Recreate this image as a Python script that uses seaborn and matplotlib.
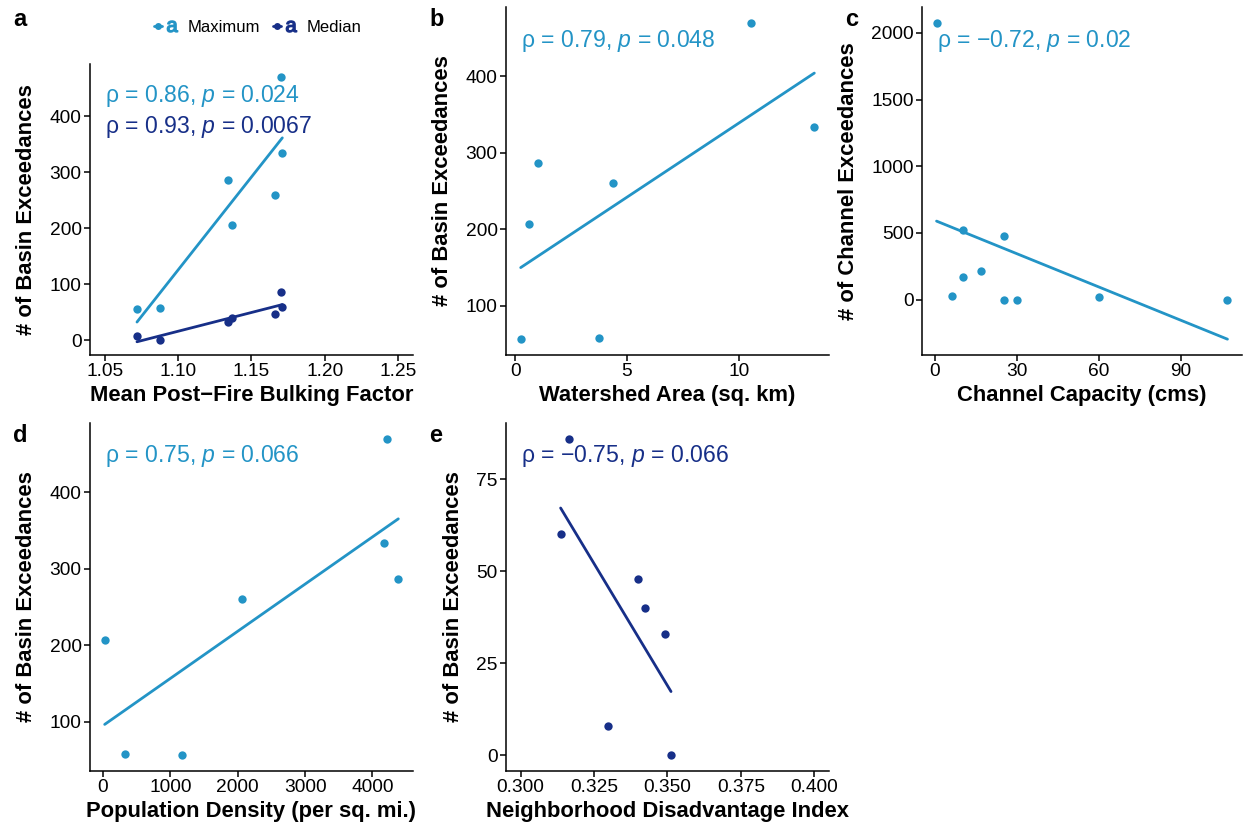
import matplotlib
matplotlib.use("Agg")
import matplotlib.pyplot as plt
import seaborn as sns
import pandas as pd
from matplotlib.lines import Line2D
from matplotlib.legend_handler import HandlerTuple

# ---------------- data ----------------
bulking = [1.072, 1.088, 1.134, 1.137, 1.166, 1.170, 1.171]
basin_max_a = [56, 58, 287, 207, 260, 470, 334]
basin_med_a = [8, 0, 33, 40, 48, 86, 60]

area = [0.25, 0.61, 1.03, 3.75, 4.36, 10.57, 13.38]
basin_max_b = [56, 207, 287, 58, 260, 470, 334]

capacity = [0.6, 10.3, 25.2, 17.0, 10.2, 6.2, 25.2, 30.1, 60.1, 107.0]
channel_exc = [2075, 526, 479, 214, 167, 30, 0, 0, 22, 0]

pop_density = [25, 321, 1170, 2059, 4168, 4222, 4385]
basin_max_d = [207, 58, 56, 260, 334, 470, 287]

disadv = [0.3136, 0.3166, 0.3296, 0.3398, 0.3425, 0.3491, 0.3512]
basin_med_e = [60, 86, 8, 48, 40, 33, 0]

series_names = ["Maximum", "Median"]
stats_a = ["ρ = 0.86, $\\it{p}$ = 0.024", "ρ = 0.93, $\\it{p}$ = 0.0067"]
stat_b = "ρ = 0.79, $\\it{p}$ = 0.048"
stat_c = "ρ = −0.72, $\\it{p}$ = 0.02"
stat_d = "ρ = 0.75, $\\it{p}$ = 0.066"
stat_e = "ρ = −0.75, $\\it{p}$ = 0.066"

C_MAX = "#2394C6"
C_MED = "#172F88"

# ---------------- style ----------------
sns.set_theme(style="ticks")
plt.rcParams["font.family"] = ["Liberation Sans", "DejaVu Sans"]
plt.rcParams["mathtext.fontset"] = "custom"
plt.rcParams["mathtext.rm"] = "Liberation Sans"
plt.rcParams["mathtext.it"] = "Liberation Sans:italic"
plt.rcParams["mathtext.bf"] = "Liberation Sans:bold"
plt.rcParams["axes.unicode_minus"] = True
plt.rcParams["text.color"] = "black"
plt.rcParams["axes.labelcolor"] = "black"

W, H = 1243, 824
fig = plt.figure(figsize=(W / 100, H / 100), dpi=100)


def add_ax(l, r, t, b):
    return fig.add_axes([l / W, 1 - b / H, (r - l) / W, (b - t) / H])


ax_a = add_ax(90, 413, 64, 355)
ax_b = add_ax(506, 829, 7, 355)
ax_c = add_ax(922, 1242, 7, 355)
ax_d = add_ax(90, 413, 423, 771)
ax_e = add_ax(506, 829, 423, 771)

TICK_FS = 13.8
LAB_FS = 15.8
ANN_FS = 16.6
PT_S = 36
LW = 2.0


def reg(ax, x, y, color):
    df = pd.DataFrame({"x": x, "y": y})
    sns.regplot(data=df, x="x", y="y", ax=ax, ci=None, truncate=True,
                color=color,
                scatter_kws=dict(s=PT_S, linewidths=0, alpha=1, zorder=3),
                line_kws=dict(lw=LW, zorder=2))


def style(ax, xlabel, ylabel):
    sns.despine(ax=ax)
    for s in ["left", "bottom"]:
        ax.spines[s].set_linewidth(1.1)
        ax.spines[s].set_color("black")
    ax.tick_params(axis="both", labelsize=TICK_FS, length=4, width=1.1,
                   pad=2, colors="black")
    ax.set_xlabel(xlabel, fontsize=LAB_FS, fontweight="bold", labelpad=3)
    ax.set_ylabel(ylabel, fontsize=LAB_FS, fontweight="bold", labelpad=9)


# panel a
reg(ax_a, bulking, basin_max_a, C_MAX)
reg(ax_a, bulking, basin_med_a, C_MED)
ax_a.set_xlim(1.04, 1.26)
ax_a.set_xticks([1.05, 1.10, 1.15, 1.20, 1.25])
ax_a.set_xticklabels(["1.05", "1.10", "1.15", "1.20", "1.25"])
ax_a.set_yticks([0, 100, 200, 300, 400])
style(ax_a, "Mean Post\u2212Fire Bulking Factor", "# of Basin Exceedances")
ax_a.text(0.046, 0.89, stats_a[0], transform=ax_a.transAxes, color=C_MAX,
          fontsize=ANN_FS, va="center", ha="left")
ax_a.text(0.046, 0.784, stats_a[1], transform=ax_a.transAxes, color=C_MED,
          fontsize=ANN_FS, va="center", ha="left")

# panel b
reg(ax_b, area, basin_max_b, C_MAX)
ax_b.set_xticks([0, 5, 10])
ax_b.set_yticks([100, 200, 300, 400])
style(ax_b, "Watershed Area (sq. km)", "# of Basin Exceedances")
ax_b.text(0.046, 0.903, stat_b, transform=ax_b.transAxes, color=C_MAX,
          fontsize=ANN_FS, va="center", ha="left")

# panel c
reg(ax_c, capacity, channel_exc, C_MAX)
ax_c.set_xticks([0, 30, 60, 90])
ax_c.set_yticks([0, 500, 1000, 1500, 2000])
style(ax_c, "Channel Capacity (cms)", "# of Channel Exceedances")
ax_c.text(0.046, 0.903, stat_c, transform=ax_c.transAxes, color=C_MAX,
          fontsize=ANN_FS, va="center", ha="left")

# panel d
reg(ax_d, pop_density, basin_max_d, C_MAX)
ax_d.set_xticks([0, 1000, 2000, 3000, 4000])
ax_d.set_yticks([100, 200, 300, 400])
style(ax_d, "Population Density (per sq. mi.)", "# of Basin Exceedances")
ax_d.text(0.046, 0.904, stat_d, transform=ax_d.transAxes, color=C_MAX,
          fontsize=ANN_FS, va="center", ha="left")

# panel e
reg(ax_e, disadv, basin_med_e, C_MED)
ax_e.set_xlim(0.295, 0.405)
ax_e.set_xticks([0.300, 0.325, 0.350, 0.375, 0.400])
ax_e.set_xticklabels(["0.300", "0.325", "0.350", "0.375", "0.400"])
ax_e.set_yticks([0, 25, 50, 75])
style(ax_e, "Neighborhood Disadvantage Index", "# of Basin Exceedances")
ax_e.text(0.046, 0.904, stat_e, transform=ax_e.transAxes, color=C_MED,
          fontsize=ANN_FS, va="center", ha="left")

# panel letters
for lab, (px, py) in zip("abcde", [(20, 19), (437, 19), (852, 19), (20, 435), (436, 435)]):
    fig.text(px / W, 1 - py / H, lab, fontsize=17, fontweight="bold",
             ha="center", va="center", color="black")

# legend
handles = []
for c in [C_MAX, C_MED]:
    h1 = Line2D([], [], color=c, lw=LW, marker="o", markersize=5, markeredgewidth=0)
    h2 = Line2D([], [], color=c, linestyle="None", marker=r"$\mathrm{a}$", markersize=8)
    handles.append((h1, h2))
fig.legend(handles, series_names, handler_map={tuple: HandlerTuple(ndivide=None)},
           loc="center", bbox_to_anchor=(258 / W, 1 - 27 / H), ncol=2, frameon=False,
           fontsize=12, handlelength=1.3, handletextpad=0.7, columnspacing=0.8)

fig.savefig("out.png", dpi=100)
